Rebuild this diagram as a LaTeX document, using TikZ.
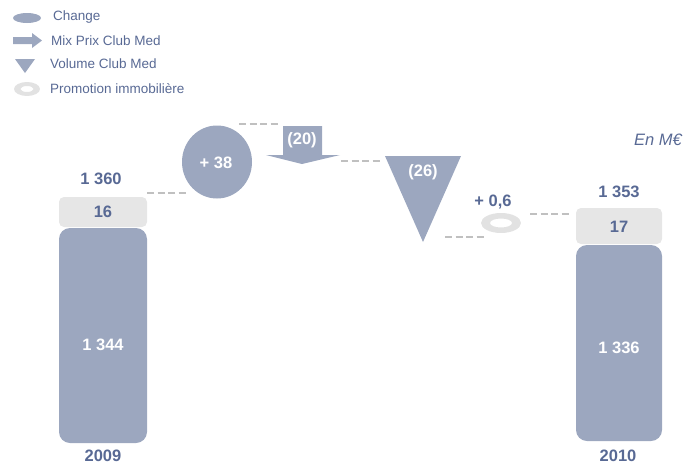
\documentclass[tikz,border=0pt]{standalone}
\usepackage{fontspec}
\setmainfont{Liberation Sans}
\usetikzlibrary{shapes.geometric}
\definecolor{txtblue}{HTML}{586994}
\definecolor{barfill}{HTML}{9CA7BF}
\definecolor{lightbox}{HTML}{E6E6E6}
\definecolor{ringcol}{HTML}{E2E2E2}
\definecolor{dashcol}{HTML}{C0C0C0}
\begin{document}
\begin{tikzpicture}[x=1pt,y=-1pt,
  lgtext/.style={anchor=west,inner sep=0pt,text=txtblue,font=\fontsize{13.5}{15}\selectfont},
  numlbl/.style={inner sep=0pt,text=txtblue,font=\fontsize{16.5}{18}\selectfont\bfseries},
  whitelbl/.style={inner sep=0pt,text=white,font=\fontsize{16.5}{18}\selectfont\bfseries},
  link/.style={draw=dashcol,line width=2.4pt,dash pattern=on 7pt off 3.5pt},
  smallbox/.style={fill=lightbox,rounded corners=5pt},
  bigbar/.style={fill=barfill,rounded corners=11pt}]
\useasboundingbox (0,0) rectangle (696,466);
% legend
\fill[barfill] (27,18) ellipse [x radius=14,y radius=5];
\node[lgtext] (lg1) at (53,17) {Change};
\fill[barfill] (13,37) -- (32,37) -- (32,33) -- (42,40.5) -- (32,48) -- (32,44) -- (13,44) -- cycle;
\node[lgtext] (lg2) at (51,41) {Mix Prix Club Med};
\fill[barfill] (15,59) -- (35,59) -- (25,73) -- cycle;
\node[lgtext] (lg3) at (50,64) {Volume Club Med};
\fill[ringcol,even odd rule] (27,89) ellipse [x radius=13,y radius=7] (27,89) ellipse [x radius=6.5,y radius=3];
\node[lgtext] (lg4) at (50,89) {Promotion immobilière};
% 2009 bar
\fill[bigbar] (59,228) rectangle (147,443);
\fill[smallbox] (59,197) rectangle (147,227);
\node[whitelbl] (v1344) at (103,345) {1 344};
\node[numlbl] (v16) at (103,212) {16};
\node[numlbl] (v1360) at (101,179) {1 360};
\node[numlbl] (y2009) at (103,456) {2009};
% 2010 bar
\fill[bigbar] (576,245) rectangle (662,441);
\fill[smallbox] (576,208) rectangle (662,244);
\node[whitelbl] (v1336) at (619,348) {1 336};
\node[numlbl] (v17) at (619,227) {17};
\node[numlbl] (v1353) at (619,192) {1 353};
\node[numlbl] (y2010) at (618,456) {2010};
% change circle
\node[ellipse,fill=barfill,minimum width=70pt,minimum height=73pt,inner sep=0pt] (chg) at (217,162) {};
\node[whitelbl] (v38) at (216,163) {+ 38};
% mix prix arrow
\fill[barfill] (283,126) -- (322,126) -- (322,155) -- (340,155) -- (302,164) -- (266,155) -- (283,155) -- cycle;
\node[whitelbl] (v20) at (302,140) {(20)};
% volume triangle
\fill[barfill] (385,156) -- (461,156) -- (423,242) -- cycle;
\node[whitelbl] (v26) at (423,172) {(26)};
% promotion ring
\fill[ringcol,even odd rule] (501,223) ellipse [x radius=20,y radius=10] (501,223) ellipse [x radius=11,y radius=4.5];
\node[numlbl] (v06) at (493,202) {+ 0,6};
% en Meuro
\node[inner sep=0pt,anchor=east,text=txtblue,font=\fontsize{16.5}{18}\selectfont\itshape] (unit) at (682,140) {En M€};
% dashed links
\coordinate (d1a) at (147,193); \coordinate (d1b) at (187,193);
\coordinate (d2a) at (239,124); \coordinate (d2b) at (279,124);
\coordinate (d3a) at (341,161); \coordinate (d3b) at (380,161);
\coordinate (d4a) at (445,237); \coordinate (d4b) at (484,237);
\coordinate (d5a) at (530,214); \coordinate (d5b) at (570,214);
\draw[link] (d1a) -- (d1b);
\draw[link] (d2a) -- (d2b);
\draw[link] (d3a) -- (d3b);
\draw[link] (d4a) -- (d4b);
\draw[link] (d5a) -- (d5b);
\end{tikzpicture}
\end{document}
